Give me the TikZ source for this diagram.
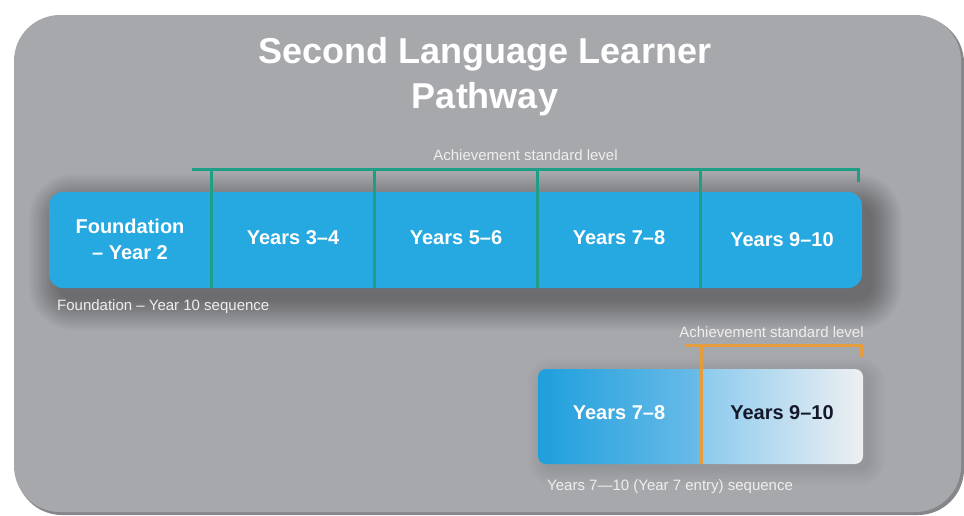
\documentclass[tikz,border=0pt]{standalone}
\usepackage{fontspec}
\setmainfont{Liberation Sans}

\definecolor{panel}{HTML}{A7A8AC}
\definecolor{paneledge}{HTML}{86878B}
\definecolor{barblue}{HTML}{26A8E1}
\definecolor{teal}{HTML}{1F9E86}
\definecolor{amber}{HTML}{E59D3C}
\definecolor{captext}{HTML}{EEEEEE}
\definecolor{darktext}{HTML}{15182A}
\definecolor{shA}{HTML}{1E9FDC}
\definecolor{shB}{HTML}{6ABBE8}
\definecolor{shC}{HTML}{8CCAEE}
\definecolor{shD}{HTML}{EEF0F2}

% left half blue, right half fading to white, with a slight step at the middle
\pgfdeclarehorizontalshading{entrybar}{100bp}{%
  color(0bp)=(shA); color(25bp)=(shA); color(49.8bp)=(shB);
  color(50.2bp)=(shC); color(75bp)=(shD); color(100bp)=(shD)}

\tikzset{
  seglabel/.style={text=white, font=\bfseries\fontsize{20}{26}\selectfont, align=center, inner sep=0pt},
  caption/.style={text=captext, font=\fontsize{15}{18}\selectfont, inner sep=0pt},
  tealline/.style={draw=teal, line width=3pt},
  amberline/.style={draw=amber, line width=3pt},
}

\begin{document}
\begin{tikzpicture}[x=1pt,y=-1pt]
\useasboundingbox (0,0) rectangle (964,515);
\fill[white] (0,0) rectangle (964,515);

% panel with a darker rim along the right and bottom
\fill[paneledge, rounded corners=46pt] (16,17) rectangle (964,515);
\fill[panel, rounded corners=46pt] (14,15) rectangle (961,512);

% title (base anchor sits on the last line)
\node[text=white, font=\bfseries\fontsize{36}{45}\selectfont, align=center, inner sep=0pt, anchor=base]
  (title) at (485,108) {Second Language Learner\\Pathway};

% soft shadow of the long bar: stacked translucent layers
\foreach \s in {30,28,...,0}
  \fill[black, opacity=0.022, rounded corners=14+\s]
    (59-\s,204-\s) rectangle (872+\s,300+\s);

% Foundation to Year 10 bar
\node[fill=barblue, rounded corners=14pt, minimum width=813pt, minimum height=96pt, inner sep=0pt]
  (bar) at (455.5,240) {};

\node[seglabel] (s1) at (130,239) {Foundation\\– Year 2};
\node[seglabel] (s2) at (293,238) {Years 3–4};
\node[seglabel] (s3) at (456,238) {Years 5–6};
\node[seglabel] (s4) at (619,238) {Years 7–8};
\node[seglabel] (s5) at (782,240) {Years 9–10};

% achievement standard bracket over the bar
\coordinate (gL) at (192,169);
\coordinate (gR) at (858,169);
\coordinate (gE) at (858,182);
\coordinate (d1) at (211,169);
\coordinate (d2) at (374,169);
\coordinate (d3) at (537,169);
\coordinate (d4) at (700,169);
\draw[tealline] (gL) -- (gR) -- (gE);
\foreach \d in {d1,d2,d3,d4}
  \draw[tealline] (\d) -- (\d |- bar.south);

\node[caption, anchor=base] (ach1) at (525.5,160) {Achievement standard level};
\node[caption, anchor=base west] (seq1) at (57,310) {Foundation – Year 10 sequence};

% faint shadow of the entry bar
\foreach \s in {16,14,...,0}
  \fill[black, opacity=0.012, rounded corners=8+\s]
    (544-\s,374-\s) rectangle (869+\s,469+\s);

% Years 7 to 10 entry bar
\node[shading=entrybar, rounded corners=8pt, minimum width=325pt, minimum height=95pt, inner sep=0pt]
  (entry) at (700.5,416.5) {};

\coordinate (oL) at (686,345);
\coordinate (oR) at (861,345);
\coordinate (oE) at (861,357);
\coordinate (o1) at (701,345);
\draw[amberline] (oL) -- (oR) -- (oE);
\draw[amberline] (o1) -- (o1 |- entry.south);

\node[seglabel] (e1) at (619,413) {Years 7–8};
\node[seglabel, text=darktext] (e2) at (782,413) {Years 9–10};

\node[caption, anchor=base] (ach2) at (771.5,337) {Achievement standard level};
\node[caption, anchor=base west] (seq2) at (547,490) {Years 7—10 (Year 7 entry) sequence};
\end{tikzpicture}
\end{document}
